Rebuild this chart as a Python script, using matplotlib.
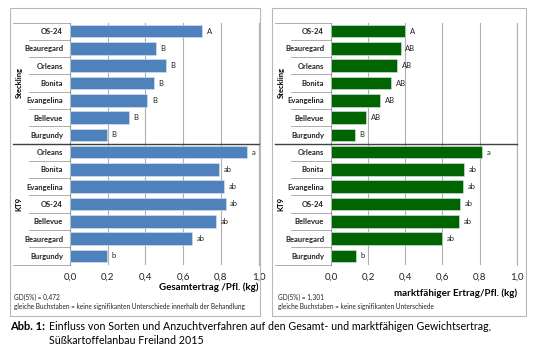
import numpy as np
import matplotlib
matplotlib.use('Agg')
import matplotlib.pyplot as plt
from matplotlib.patches import Rectangle

plt.rcParams['font.family'] = ['Lato', 'DejaVu Sans']

sorten = ['OS-24', 'Beauregard', 'Orleans', 'Bonita', 'Evangelina', 'Bellevue', 'Burgundy',
          'Orleans', 'Bonita', 'Evangelina', 'OS-24', 'Bellevue', 'Beauregard', 'Burgundy']
gruppen = ['Steckling', 'KT9']

gesamt = [0.70, 0.455, 0.507, 0.445, 0.41, 0.312, 0.195,
          0.937, 0.79, 0.815, 0.825, 0.775, 0.648, 0.195]
gesamt_letters = ['A', 'B', 'B', 'B', 'B', 'B', 'B',
                  'a', 'ab', 'ab', 'ab', 'ab', 'ab', 'b']

markt = [0.40, 0.375, 0.357, 0.325, 0.266, 0.19, 0.128,
         0.813, 0.716, 0.709, 0.693, 0.691, 0.598, 0.135]
markt_letters = ['A', 'AB', 'AB', 'AB', 'AB', 'AB', 'B',
                 'a', 'ab', 'ab', 'ab', 'ab', 'ab', 'b']

xticks = [0.0, 0.2, 0.4, 0.6, 0.8, 1.0]
W, H = 540, 352


def draw_panel(ax, values, letters, color, xlabel, label_y, gd_text, note_text, note_x):
    y = np.arange(len(sorten))
    ax.barh(y, values, height=0.72, color=color, edgecolor='#dde6f0', linewidth=0.4, zorder=3)
    for yi, v, l in zip(y, values, letters):
        ax.text(v + 0.025, yi, l, va='center', ha='left', fontsize=5.5, color='#222222')
    ax.set_ylim(len(sorten) - 0.5, -0.5)
    ax.set_xlim(0, 1.0)
    ax.set_yticks(y)
    ax.set_yticklabels(sorten, fontsize=5.5, fontweight='bold', color='#222222')
    ax.tick_params(axis='y', length=0, pad=5)
    ax.set_xticks(xticks)
    ax.set_xticklabels([f'{t:.1f}'.replace('.', ',') for t in xticks], fontsize=7, color='#222222')
    ax.tick_params(axis='x', length=0, pad=6)
    ax.grid(axis='x', color='#b0b0b0', linewidth=0.8, zorder=0)
    for s in ['top', 'bottom']:
        ax.spines[s].set_visible(False)
    ax.spines['right'].set_color('#b0b0b0')
    ax.spines['left'].set_color('#9a9a9a')

    tr = ax.get_yaxis_transform()
    # row dividers in label area
    for b in [0.5, 1.5, 2.5, 3.5, 4.5, 5.5, 7.5, 8.5, 9.5, 10.5, 11.5, 12.5]:
        ax.plot([-0.215, 0], [b, b], color='#a0a0a0', lw=0.6, transform=tr, clip_on=False)
    ax.plot([-0.30, 0], [-0.5, -0.5], color='#a0a0a0', lw=0.6, transform=tr, clip_on=False)
    ax.plot([-0.30, 0], [13.5, 13.5], color='#a0a0a0', lw=0.6, transform=tr, clip_on=False)
    ax.plot([-0.30, 1.0], [6.5, 6.5], color='#404040', lw=1.0, transform=tr, clip_on=False, zorder=5)
    ax.text(-0.27, 3, gruppen[0], rotation=90, va='center', ha='center', fontsize=5.5,
            fontweight='bold', transform=tr)
    ax.text(-0.27, 10, gruppen[1], rotation=90, va='center', ha='center', fontsize=5.5,
            fontweight='bold', transform=tr)
    pos = ax.get_position()
    fig.text(pos.x1, 1 - label_y / H, xlabel, fontsize=7, fontweight='bold', ha='right', va='center')
    fig.text(note_x / W, 1 - 297 / H, gd_text, fontsize=4.7, va='center', color='#222222')
    fig.text(note_x / W, 1 - 307 / H, note_text, fontsize=4.7, va='center', color='#222222')


fig = plt.figure(figsize=(W / 100, H / 100), dpi=100)
fig.patch.set_facecolor('white')

# panel frames
for x0, x1 in [(10, 260), (272, 526)]:
    fig.add_artist(Rectangle((x0 / W, 1 - 316 / H), (x1 - x0) / W, (316 - 8) / H,
                             transform=fig.transFigure, fill=False, edgecolor='#b8b8b8', lw=0.8))

ax1 = fig.add_axes([70 / W, 1 - 264.5 / H, 188.5 / W, 242 / H])
ax2 = fig.add_axes([331 / W, 1 - 264.5 / H, 185.7 / W, 242 / H])

draw_panel(ax1, gesamt, gesamt_letters, '#4f81bd', 'Gesamtertrag /Pfl. (kg)', 287,
           'GD(5%) = 0,472', 'gleiche Buchstaben = keine signifikanten Unterschiede innerhalb der Behandlung', 14)
draw_panel(ax2, markt, markt_letters, '#006400', 'marktfähiger Ertrag/Pfl. (kg)', 293,
           'GD(5%) = 1,301', 'gleiche Buchstaben = keine signifikanten Unterschiede', 278)

fig.text(10 / W, 1 - 326 / H, 'Abb. 1:', fontsize=8, fontweight='bold', va='center')
fig.text(49 / W, 1 - 326 / H,
         'Einfluss von Sorten und Anzuchtverfahren auf den Gesamt- und marktfähigen Gewichtsertrag,',
         fontsize=7.7, va='center')
fig.text(49 / W, 1 - 341 / H, 'Süßkartoffelanbau Freiland 2015', fontsize=7.7, va='center')

fig.savefig('out.png', dpi=100)
